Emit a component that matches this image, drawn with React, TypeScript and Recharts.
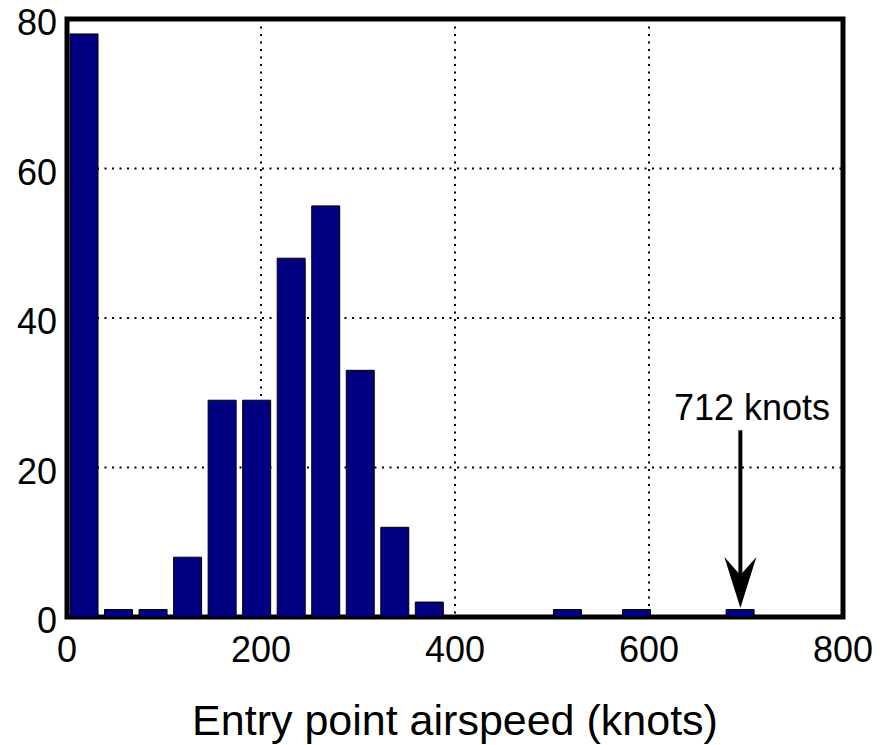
import {
  ComposedChart,
  Bar,
  XAxis,
  YAxis,
  CartesianGrid,
  ReferenceArea,
  ReferenceLine,
  ReferenceDot,
} from "recharts";

// histogram bins (knots) and counts
const binCenters = [
  17.8, 53.4, 89, 124.6, 160.2, 195.8, 231.4, 267, 302.6, 338.2,
  373.8, 409.4, 445, 480.6, 516.2, 551.8, 587.4, 623, 658.6, 694.2,
];
const counts = [78, 1, 1, 8, 29, 29, 48, 55, 33, 12, 2, 0, 0, 0, 1, 0, 1, 0, 0, 1];

const xTicks = [0, 200, 400, 600, 800];
const yTicks = [0, 20, 40, 60, 80];

const annotationText = "712 knots";
const arrowX = 694.2;
const arrowFrom = 25;
const arrowTo = 1.2;
const textX = 706.2;
const textY = 26.35;

const data = binCenters.map((x, i) => ({ x, count: counts[i] }));

const FONT = "'Liberation Sans', Arial, Helvetica, sans-serif";

const XTick = ({ x, y, payload }: any) => (
  <text x={x} y={y + 45} textAnchor="middle" fontSize={36} fontFamily={FONT} fill="#000">
    {payload.value}
  </text>
);

const YTick = ({ x, y, payload }: any) => (
  <text x={x} y={y + 16} textAnchor="end" fontSize={36} fontFamily={FONT} fill="#000">
    {payload.value}
  </text>
);

// arrow with notched head, drawn between the segment's scaled ends
const Arrow = ({ x1, y1, x2, y2 }: any) => {
  const head = 51;
  const notch = 33;
  const half = 16;
  return (
    <g>
      <line x1={x1} y1={y1} x2={x2} y2={y2 - notch} stroke="#000" strokeWidth={4} />
      <polygon
        points={`${x2},${y2} ${x2 - half},${y2 - head} ${x2},${y2 - notch} ${x2 + half},${y2 - head}`}
        fill="#000"
      />
    </g>
  );
};

const Note = ({ cx, cy }: any) => (
  <text x={cx} y={cy} textAnchor="middle" fontSize={36} fontFamily={FONT} fill="#000">
    {annotationText}
  </text>
);

export default function App() {
  return (
    <div style={{ position: "fixed", left: 0, top: 0, background: "#fff" }}>
      <ComposedChart
        width={892}
        height={745}
        data={data}
        margin={{ top: 19, right: 49, bottom: 0, left: 7 }}
      >
        <CartesianGrid stroke="#000" strokeWidth={2} strokeDasharray="2 5.5" />
        <XAxis
          dataKey="x"
          type="number"
          domain={[0, 800]}
          ticks={xTicks}
          height={128}
          axisLine={false}
          tickLine={false}
          tickSize={0}
          tickMargin={0}
          tick={<XTick />}
          interval={0}
          label={{
            value: "Entry point airspeed (knots)",
            position: "insideBottom",
            offset: 10,
            fontSize: 43,
            fontFamily: FONT,
            fill: "#000",
          }}
        />
        <YAxis
          type="number"
          domain={[0, 80]}
          ticks={yTicks}
          width={60}
          axisLine={false}
          tickLine={false}
          tickSize={0}
          tickMargin={10}
          tick={<YTick />}
          interval={0}
        />
        <Bar
          dataKey="count"
          fill="#000080"
          stroke="#000"
          strokeWidth={1}
          barSize={28}
          isAnimationActive={false}
        />
        <ReferenceArea
          x1={0}
          x2={800}
          y1={0}
          y2={80}
          fill="none"
          fillOpacity={0}
          stroke="#000"
          strokeWidth={5}
          strokeOpacity={1}
          ifOverflow="visible"
        />
        <ReferenceLine
          segment={[
            { x: arrowX, y: arrowFrom },
            { x: arrowX, y: arrowTo },
          ]}
          ifOverflow="visible"
          shape={<Arrow />}
        />
        <ReferenceDot x={textX} y={textY} ifOverflow="visible" shape={<Note />} />
      </ComposedChart>
    </div>
  );
}
